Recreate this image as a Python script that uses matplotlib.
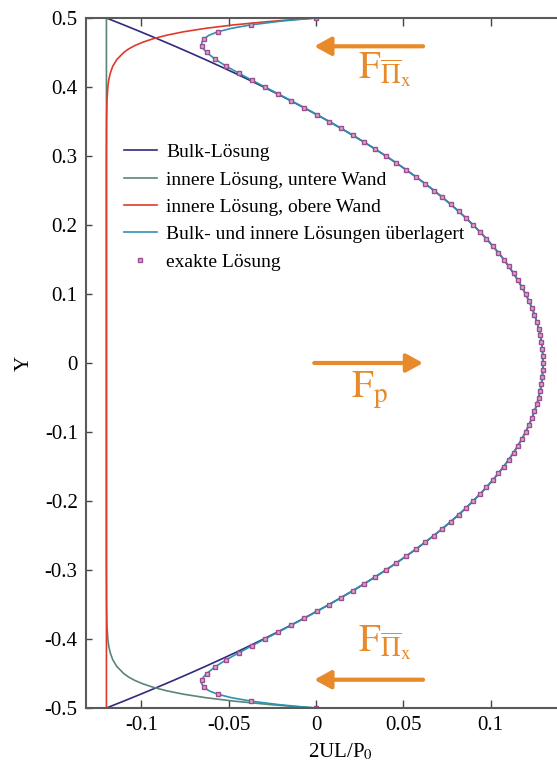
import numpy as np
import matplotlib
matplotlib.use("Agg")
import matplotlib.pyplot as plt

plt.rcParams['font.family'] = ['Liberation Serif', 'DejaVu Serif']
plt.rcParams['mathtext.fontset'] = 'stix'

# sample positions across the channel (y = -0.5 ... 0.5, step 0.01)
y_grid = np.linspace(-0.5, 0.5, 101)

# Bulk-Loesung at each y_grid point
bulk_u = [
    -0.1200, -0.1101, -0.1004, -0.0909, -0.0816, -0.0725, -0.0636, -0.0549, -0.0464, -0.0381,
    -0.0300, -0.0221, -0.0144, -0.0069, 0.0004, 0.0075, 0.0144, 0.0211, 0.0276, 0.0339,
    0.0400, 0.0459, 0.0516, 0.0571, 0.0624, 0.0675, 0.0724, 0.0771, 0.0816, 0.0859,
    0.0900, 0.0939, 0.0976, 0.1011, 0.1044, 0.1075, 0.1104, 0.1131, 0.1156, 0.1179,
    0.1200, 0.1219, 0.1236, 0.1251, 0.1264, 0.1275, 0.1284, 0.1291, 0.1296, 0.1299,
    0.1300,
    0.1299, 0.1296, 0.1291, 0.1284, 0.1275, 0.1264, 0.1251, 0.1236, 0.1219, 0.1200,
    0.1179, 0.1156, 0.1131, 0.1104, 0.1075, 0.1044, 0.1011, 0.0976, 0.0939, 0.0900,
    0.0859, 0.0816, 0.0771, 0.0724, 0.0675, 0.0624, 0.0571, 0.0516, 0.0459, 0.0400,
    0.0339, 0.0276, 0.0211, 0.0144, 0.0075, 0.0004, -0.0069, -0.0144, -0.0221, -0.0300,
    -0.0381, -0.0464, -0.0549, -0.0636, -0.0725, -0.0816, -0.0909, -0.1004, -0.1101, -0.1200,
]

# exakte Loesung (markers), same y_grid
exact_u = [
    0.0000, -0.0373, -0.0563, -0.0641, -0.0654, -0.0626, -0.0576, -0.0513, -0.0442, -0.0368,
    -0.0292, -0.0216, -0.0141, -0.0067, 0.0004, 0.0075, 0.0144, 0.0211, 0.0276, 0.0339,
    0.0400, 0.0459, 0.0516, 0.0571, 0.0624, 0.0675, 0.0724, 0.0771, 0.0816, 0.0859,
    0.0900, 0.0939, 0.0976, 0.1011, 0.1044, 0.1075, 0.1104, 0.1131, 0.1156, 0.1179,
    0.1200, 0.1219, 0.1236, 0.1251, 0.1264, 0.1275, 0.1284, 0.1291, 0.1296, 0.1299,
    0.1300,
    0.1299, 0.1296, 0.1291, 0.1284, 0.1275, 0.1264, 0.1251, 0.1236, 0.1219, 0.1200,
    0.1179, 0.1156, 0.1131, 0.1104, 0.1075, 0.1044, 0.1011, 0.0976, 0.0939, 0.0900,
    0.0859, 0.0816, 0.0771, 0.0724, 0.0675, 0.0624, 0.0571, 0.0516, 0.0459, 0.0400,
    0.0339, 0.0276, 0.0211, 0.0144, 0.0075, 0.0004, -0.0067, -0.0141, -0.0216, -0.0292,
    -0.0368, -0.0442, -0.0513, -0.0576, -0.0626, -0.0654, -0.0641, -0.0563, -0.0373, 0.0000,
]

# extra points of the composite curve close to the walls
wall_y = [-0.4975, -0.495, -0.485, -0.475, -0.465, -0.455,
          0.455, 0.465, 0.475, 0.485, 0.495, 0.4975]
wall_u = [-0.0116, -0.0216, -0.0485, -0.0613, -0.0654, -0.0644,
          -0.0644, -0.0654, -0.0613, -0.0485, -0.0216, -0.0116]

# inner solutions (upper wall; lower wall is drawn at the mirrored y positions)
inner_y = [-0.5, 0.30, 0.35, 0.38, 0.40, 0.41, 0.42, 0.43, 0.44, 0.45, 0.455,
           0.46, 0.465, 0.47, 0.475, 0.48, 0.485, 0.49, 0.495, 0.4975, 0.5]
inner_upper_u = [-0.1200, -0.1200, -0.1199, -0.1197, -0.1192, -0.1187, -0.1178,
                 -0.1164, -0.1140, -0.1101, -0.1074, -0.1038, -0.0991, -0.0932,
                 -0.0856, -0.0759, -0.0633, -0.0472, -0.0265, -0.0141, 0.0000]
inner_lower_y = [-v for v in inner_y]
inner_lower_u = list(inner_upper_u)

# force arrows (tail x, head x, y) and labels
arrow_tail_x = [0.0613, -0.001, 0.0613]
arrow_head_x = [-0.001, 0.0613, -0.001]
arrow_y = [0.459, 0.0, -0.459]
force_labels = [r'$\mathrm{F}_{\overline{\Pi}_{\mathrm{x}}}$', r'$\mathrm{F}_{\mathrm{p}}$',
                r'$\mathrm{F}_{\overline{\Pi}_{\mathrm{x}}}$']
label_xy = [(0.024, 0.425), (0.020, -0.04), (0.024, -0.405)]

orange = '#e8892a'

fig = plt.figure(figsize=(5.57, 7.70), dpi=100)
ax = fig.add_axes([86 / 557, 1 - 708 / 770, 1 - 86 / 557, 690 / 770])

comp_pairs = sorted(zip(list(y_grid) + wall_y, exact_u + wall_u))
comp_y = [p[0] for p in comp_pairs]
comp_u = [p[1] for p in comp_pairs]

ax.plot(bulk_u, y_grid, color='#2e2a7e', lw=1.2, label='Bulk-Lösung')
ax.plot(inner_lower_u, inner_lower_y, color='#5b8574', lw=1.2, label='innere Lösung, untere Wand')
ax.plot(inner_upper_u, inner_y, color='#e0392c', lw=1.2, label='innere Lösung, obere Wand')
ax.plot(comp_u, comp_y, color='#2a93b0', lw=1.2, label='Bulk- und innere Lösungen überlagert')
ax.plot(exact_u, y_grid, ls='none', marker='s', ms=2.8, mfc='#d9a6c8', mec='#9b4f8f', mew=1.0,
        label='exakte Lösung')

for xt, xh, ya in zip(arrow_tail_x, arrow_head_x, arrow_y):
    ax.annotate('', xy=(xh, ya), xytext=(xt, ya),
                arrowprops=dict(arrowstyle='-|>,head_length=1.0,head_width=0.55',
                                color=orange, lw=3.0, shrinkA=0, shrinkB=0))
for lab, (lx, ly) in zip(force_labels, label_xy):
    ax.text(lx, ly, lab, color=orange, fontsize=28, ha='left', va='center')

ax.set_xlim(-0.1317, 0.138)
ax.set_ylim(-0.5, 0.5)
ax.set_xticks([-0.1, -0.05, 0, 0.05, 0.1])
ax.set_xticklabels(['-0.1', '-0.05', '0', '0.05', '0.1'])
ax.set_yticks(np.round(np.arange(-0.5, 0.51, 0.1), 1))
ax.set_yticklabels(['-0.5', '-0.4', '-0.3', '-0.2', '-0.1', '0', '0.1', '0.2', '0.3', '0.4', '0.5'])

for side in ['left', 'top', 'bottom']:
    ax.spines[side].set_color('#5a5a5a')
    ax.spines[side].set_linewidth(1.5)
ax.spines['right'].set_visible(False)
ax.tick_params(axis='x', direction='in', top=True, length=6, width=1.0, color='#444444',
               labelsize=15, pad=6)
ax.tick_params(axis='y', direction='in', right=False, length=4, width=1.0, color='#444444',
               labelsize=15, pad=6)

ax.set_xlabel('2UL/P$_0$', fontsize=15)
ax.xaxis.set_label_coords((340 - 86) / 471, -0.048)
ax.set_ylabel('Y', fontsize=15)
ax.yaxis.set_label_coords(-0.11, 0.5)

ax.legend(loc='upper left', bbox_to_anchor=(0.08, 0.818), frameon=False, fontsize=14,
          handlelength=1.7, handletextpad=0.5, labelspacing=0.5, borderpad=0,
          borderaxespad=0, markerscale=1.0)

fig.savefig('out.png', dpi=100)
